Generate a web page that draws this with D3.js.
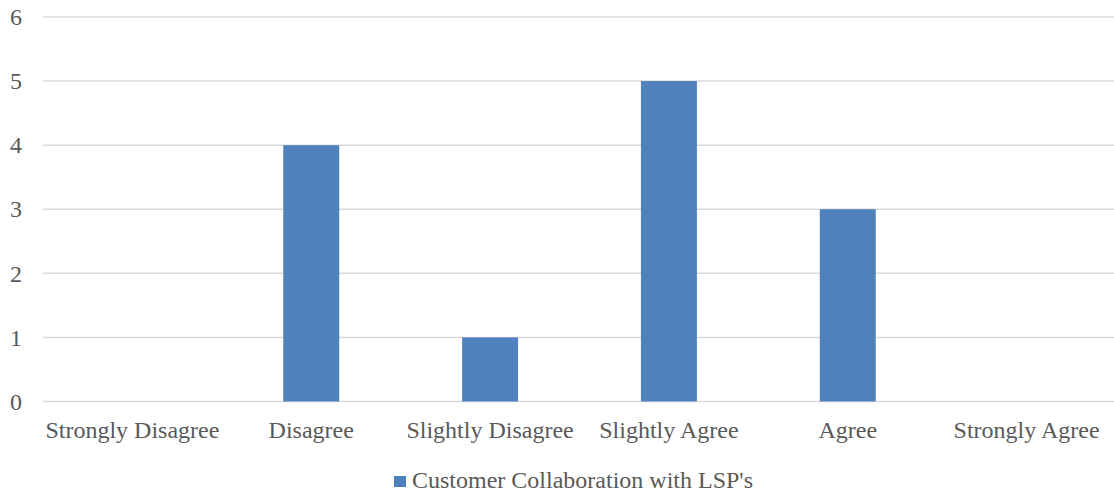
<!DOCTYPE html>
<html>
<head>
<meta charset="utf-8">
<script src="https://cdn.jsdelivr.net/npm/d3@7"></script>
<style>
  html, body { margin: 0; padding: 0; background: #fff; }
  svg { display: block; }
  text { font-family: "Liberation Serif", "Times New Roman", serif; fill: #595959; }
</style>
</head>
<body>
<svg id="chart" width="1114" height="493"></svg>
<script>
const categories = ["Strongly Disagree", "Disagree", "Slightly Disagree", "Slightly Agree", "Agree", "Strongly Agree"];
const values = [0, 4, 1, 5, 3, 0];
const seriesName = "Customer Collaboration with LSP's";
const yTicks = [0, 1, 2, 3, 4, 5, 6];

const svg = d3.select("#chart");
const margin = { left: 43, right: -2, top: 17, bottom: 92 };
const W = 1114, H = 493;
const FS = 24;

const x = d3.scaleBand()
  .domain(categories)
  .range([margin.left, W - margin.right])
  .paddingInner(0.687)
  .paddingOuter(0.3435);

const y = d3.scaleLinear()
  .domain([0, 6])
  .range([H - margin.bottom + 0.5, margin.top]);

// horizontal gridlines
svg.append("g")
  .selectAll("line")
  .data(yTicks)
  .join("line")
  .attr("x1", margin.left)
  .attr("x2", W - margin.right)
  .attr("y1", d => y(d))
  .attr("y2", d => y(d))
  .attr("stroke", "#d9d9d9")
  .attr("stroke-width", 1.5);

// y-axis labels
const yAxis = d3.axisLeft(y).tickValues(yTicks).tickFormat(d3.format("d")).tickSize(0).tickPadding(0);
const gy = svg.append("g").attr("transform", "translate(22,0)").call(yAxis);
gy.select(".domain").remove();
gy.selectAll("text")
  .attr("font-size", FS)
  .attr("fill", "#595959")
  .attr("dy", "0.32em");

// bars
svg.append("g")
  .selectAll("rect")
  .data(categories.map((c, i) => ({ c, v: values[i] })))
  .join("rect")
  .attr("x", d => x(d.c))
  .attr("width", x.bandwidth())
  .attr("y", d => y(d.v))
  .attr("height", d => y(0) - y(d.v))
  .attr("fill", "#4f81bd");

// category labels
const xAxis = d3.axisBottom(x).tickSize(0).tickPadding(0);
const gx = svg.append("g").attr("transform", `translate(0,${y(0) + 36})`).call(xAxis);
gx.select(".domain").remove();
gx.selectAll("text")
  .attr("font-size", FS)
  .attr("fill", "#595959")
  .attr("dy", "0");

// legend
const legend = svg.append("g");
legend.append("rect")
  .attr("x", 394).attr("y", 476)
  .attr("width", 12).attr("height", 11)
  .attr("fill", "#4f81bd");
legend.append("text")
  .attr("x", 412).attr("y", 488)
  .attr("font-size", FS)
  .text(seriesName);
</script>
</body>
</html>
